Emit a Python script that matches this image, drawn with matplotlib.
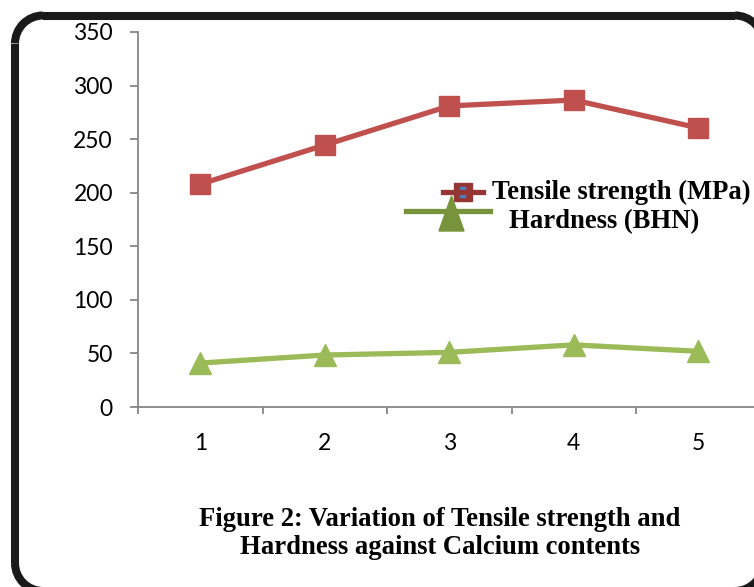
import matplotlib
matplotlib.use("Agg")
import matplotlib.pyplot as plt
from matplotlib.patches import Polygon, Rectangle, Arc
from matplotlib.lines import Line2D

# ---- data ----
calcium = [1, 2, 3, 4, 5]
tensile = [208, 244.5, 281, 286.5, 260.5]
hardness = [41, 48.5, 51, 58, 52]
yticks = [0, 50, 100, 150, 200, 250, 300, 350]
series_names = ["Tensile strength (MPa)", "Hardness (BHN)"]
caption = ["Figure 2: Variation of Tensile strength and",
           "Hardness against Calcium contents"]

W, H = 754, 587
fig = plt.figure(figsize=(W / 100, H / 100), dpi=100)
fig.patch.set_facecolor("white")

# overlay axes in pixel coordinates (y measured from top via helper)
ov = fig.add_axes([0, 0, 1, 1], zorder=0)
ov.set_xlim(0, W)
ov.set_ylim(0, H)
ov.axis("off")


def py(y):
    return H - y


# main plot axes
left, right = 138, 754
top, bottom = 32, 407
ax = fig.add_axes([left / W, (H - bottom) / H, (right - left) / W, (bottom - top) / H], zorder=1)
ax.patch.set_alpha(0)

red = "#C0504D"
green = "#9BBB59"
gray = "#868686"

ax.plot(calcium, tensile, color=red, lw=3.8, marker="s", ms=14, mfc=red, mec=red, zorder=3,
        clip_on=False)
ax.plot(calcium, hardness, color=green, lw=3.8, marker="^", ms=16, mfc=green, mec=green, zorder=3,
        clip_on=False)

step = 124.5
ax.set_xlim(0.5, 0.5 + (right - left) / step)
ax.set_ylim(0, 350)
ax.set_yticks(yticks)
ax.set_xticks(calcium)
ax.set_xticks([0.5, 1.5, 2.5, 3.5, 4.5], minor=True)

for s in ["top", "right"]:
    ax.spines[s].set_visible(False)
for s in ["left", "bottom"]:
    ax.spines[s].set_color(gray)
    ax.spines[s].set_linewidth(1.3)

ax.tick_params(axis="y", direction="out", length=6, width=1.3, color=gray, pad=12,
               labelsize=16.5, labelcolor="black")
ax.tick_params(axis="x", which="major", length=0, pad=19, labelsize=16.5, labelcolor="black")
ax.tick_params(axis="x", which="minor", direction="out", length=5, width=1.3, color=gray)
for lab in ax.get_xticklabels() + ax.get_yticklabels():
    lab.set_fontfamily(["Lato", "DejaVu Sans"])

# rounded frame (right and bottom sides lie just outside the picture)
fx0, fx1, fy0, fy1, r = 15, 763, py(591), py(15.5), 28
fc = "#1a1a1a"
flw = 5.8
for xs, ys in [([fx0 + r, fx1 - r], [fy1, fy1]), ([fx0 + r, fx1 - r], [fy0, fy0]),
               ([fx0, fx0], [fy0 + r, fy1 - r]), ([fx1, fx1], [fy0 + r, fy1 - r])]:
    ov.add_line(Line2D(xs, ys, color=fc, lw=flw, solid_capstyle="butt", clip_on=False))
for cx, cy, a1, a2 in [(fx0 + r, fy1 - r, 90, 180), (fx1 - r, fy1 - r, 0, 90),
                       (fx0 + r, fy0 + r, 180, 270), (fx1 - r, fy0 + r, 270, 360)]:
    ov.add_patch(Arc((cx, cy), 2 * r, 2 * r, theta1=a1, theta2=a2, color=fc, lw=flw,
                     clip_on=False))

# legend (drawn to look like reference)
ov.add_line(Line2D([443, 483], [py(192), py(192)], color="#943634", lw=3.8))
ov.add_patch(Rectangle((454, py(201)), 18, 18, color="#943634"))
ov.add_patch(Rectangle((460, py(197)), 5, 10, color="#4F81BD"))
ov.add_line(Line2D([406, 490], [py(211), py(211)], color="#77933C", lw=3.8))
ov.add_patch(Polygon([[439, py(231)], [464, py(231)], [451.5, py(196)]], closed=True,
                     color="#77933C"))

serif = dict(family=["Liberation Serif", "DejaVu Serif"], weight="bold", size=19.2)
ov.text(492, py(192), series_names[0], ha="left", va="center", **serif)
ov.text(509, py(222), series_names[1], ha="left", va="center", **serif)

ov.text(440, py(520), caption[0], ha="center", va="center", **serif)
ov.text(440, py(548), caption[1], ha="center", va="center", **serif)

fig.savefig("out.png", dpi=100, facecolor="white")
